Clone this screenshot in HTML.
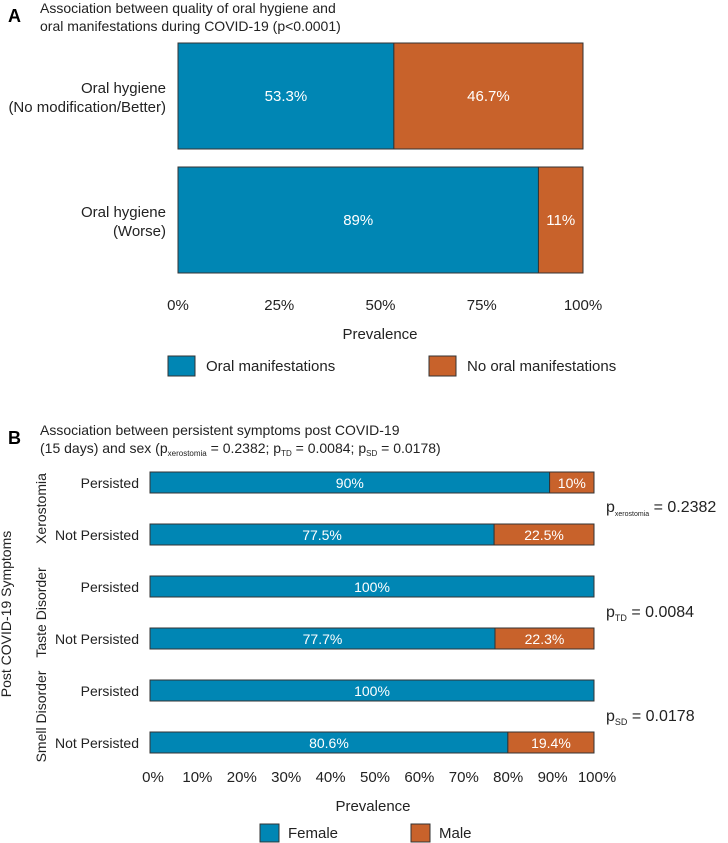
<!DOCTYPE html>
<html><head><meta charset="utf-8"><style>
body{margin:0;background:#fff;}
svg{display:block;font-family:"Liberation Sans",sans-serif;}
</style></head><body>
<svg id="c" width="728" height="843" viewBox="0 0 728 843">
<text x="8" y="22" font-size="18" font-weight="bold" fill="#000">A</text>
<text x="40" y="13" font-size="14" fill="#222">Association between quality of oral hygiene and</text>
<text x="40" y="31" font-size="14" fill="#222">oral manifestations during COVID-19 (p&lt;0.0001)</text>
<text x="8" y="444" font-size="18" font-weight="bold" fill="#000">B</text>
<text x="40" y="435" font-size="14" fill="#222">Association between persistent symptoms post COVID-19</text>
<text x="40" y="453" font-size="14" fill="#222">(15 days) and sex (p<tspan font-size="8" dy="3">xerostomia</tspan><tspan dy="-3"> = 0.2382; p</tspan><tspan font-size="8" dy="3">TD</tspan><tspan dy="-3"> = 0.0084; p</tspan><tspan font-size="8" dy="3">SD</tspan><tspan dy="-3"> = 0.0178)</tspan></text>
<g id="ga"></g><g id="gb"></g>
</svg>
<script>
const aCats=[["Oral hygiene","(No modification/Better)"],["Oral hygiene","(Worse)"]];
const aOral=[53.3,89];
const aNoOral=[46.7,11];
const aOralLbl=["53.3%","89%"];
const aNoOralLbl=["46.7%","11%"];
const aTicks=[0,25,50,75,100];
const bRows=["Persisted","Not Persisted","Persisted","Not Persisted","Persisted","Not Persisted"];
const bGroups=["Xerostomia","Taste Disorder","Smell Disorder"];
const bFemale=[90,77.5,100,77.7,100,80.6];
const bMale=[10,22.5,0,22.3,0,19.4];
const bTicks=[0,10,20,30,40,50,60,70,80,90,100];
const BLUE="#0086b4",ORANGE="#c8622b";
const NS="http://www.w3.org/2000/svg";
function mk(p,t,a,txt){const e=document.createElementNS(NS,t);for(const k in a)e.setAttribute(k,a[k]);if(txt!=null)e.textContent=txt;p.appendChild(e);return e;}
// Panel A
const ga=document.getElementById('ga');
const ax=v=>178+v/100*405;
const ay=i=>43+i*124;
aCats.forEach((c,i)=>{
 const y=ay(i),h=106;
 let r=mk(ga,'rect',{x:ax(0),y:y,width:ax(aOral[i])-ax(0),height:h,fill:BLUE,stroke:'#333','stroke-width':1});
 
 
 r=mk(ga,'rect',{x:ax(aOral[i]),y:y,width:ax(aOral[i]+aNoOral[i])-ax(aOral[i]),height:h,fill:ORANGE,stroke:'#333','stroke-width':1});
 
 
 let t=mk(ga,'text',{x:(ax(0)+ax(aOral[i]))/2,y:y+h/2+5,'font-size':15,fill:'#fff','text-anchor':'middle'},aOralLbl[i]);
 
 
 t=mk(ga,'text',{x:(ax(aOral[i])+ax(100))/2,y:y+h/2+5,'font-size':15,fill:'#fff','text-anchor':'middle'},aNoOralLbl[i]);
 
 
 t=mk(ga,'text',{x:166,y:y+h/2-3,'font-size':15,fill:'#222','text-anchor':'end'},c[0]);
 
 
 t=mk(ga,'text',{x:166,y:y+h/2+16,'font-size':15,fill:'#222','text-anchor':'end'},c[1]);
 
 
});
aTicks.forEach(v=>{const t=mk(ga,'text',{x:ax(v),y:310,'font-size':15,fill:'#222','text-anchor':'middle'},v+'%');
 
 });
let t=mk(ga,'text',{x:380,y:339,'font-size':15,fill:'#222','text-anchor':'middle'},'Prevalence');


[[168,BLUE,'Oral manifestations'],[429,ORANGE,'No oral manifestations']].forEach(([x,c,l])=>{
 const r=mk(ga,'rect',{x:x,y:356,width:27,height:20,fill:c,stroke:'#333'});
 
 
 const tt=mk(ga,'text',{x:x+38,y:371,'font-size':15,fill:'#222'},l);
 
 
});
// Panel B
const gb=document.getElementById('gb');
const bx=v=>150+v/100*444;
const by=i=>472+i*52;
bRows.forEach((n,i)=>{
 const y=by(i),h=21;
 let r=mk(gb,'rect',{x:bx(0),y:y,width:bx(bFemale[i])-bx(0),height:h,fill:BLUE,stroke:'#333'});
 
 
 if(bMale[i]>0){
  r=mk(gb,'rect',{x:bx(bFemale[i]),y:y,width:bx(bFemale[i]+bMale[i])-bx(bFemale[i]),height:h,fill:ORANGE,stroke:'#333'});
  
  
  let tm=mk(gb,'text',{x:(bx(bFemale[i])+bx(100))/2,y:y+16,'font-size':14,fill:'#fff','text-anchor':'middle'},bMale[i]+'%');
  
  
 }
 let tf=mk(gb,'text',{x:(bx(0)+bx(bFemale[i]))/2,y:y+16,'font-size':14,fill:'#fff','text-anchor':'middle'},bFemale[i]+'%');
 
 
 let tl=mk(gb,'text',{x:139,y:y+16,'font-size':14,fill:'#222','text-anchor':'end'},n);
 
 
});
bGroups.forEach((g,k)=>{
 const cy=(by(2*k)+by(2*k+1)+21)/2;
 const tg=mk(gb,'text',{x:0,y:0,'font-size':14,fill:'#222','text-anchor':'middle',transform:`translate(46,${cy}) rotate(-90)`},g);
 
 
});
t=mk(gb,'text',{x:0,y:0,'font-size':14,fill:'#222','text-anchor':'middle',transform:'translate(11,614) rotate(-90)'},'Post COVID-19 Symptoms');


bTicks.forEach(v=>{const tk=mk(gb,'text',{x:bx(v)+3,y:782,'font-size':15,fill:'#222','text-anchor':'middle'},v+'%');
 
 });
t=mk(gb,'text',{x:373,y:811,'font-size':15,fill:'#222','text-anchor':'middle'},'Prevalence');


[[260,BLUE,'Female'],[411,ORANGE,'Male']].forEach(([x,c,l])=>{
 const r=mk(gb,'rect',{x:x,y:824,width:19,height:18,fill:c,stroke:'#333'});
 
 
 const tt=mk(gb,'text',{x:x+28,y:838,'font-size':15,fill:'#222'},l);
 
 
});
[[512,'xerostomia','0.2382'],[617,'TD','0.0084'],[721,'SD','0.0178']].forEach(([y,s,v])=>{
 const tp=mk(gb,'text',{x:606,y:y,'font-size':16,fill:'#222'});
 
 
 mk(tp,'tspan',{},'p');
 mk(tp,'tspan',{'font-size':s.length>2?7:9,dy:4},s);
 mk(tp,'tspan',{dy:-4},' = '+v);
});
</script>
</body></html>
